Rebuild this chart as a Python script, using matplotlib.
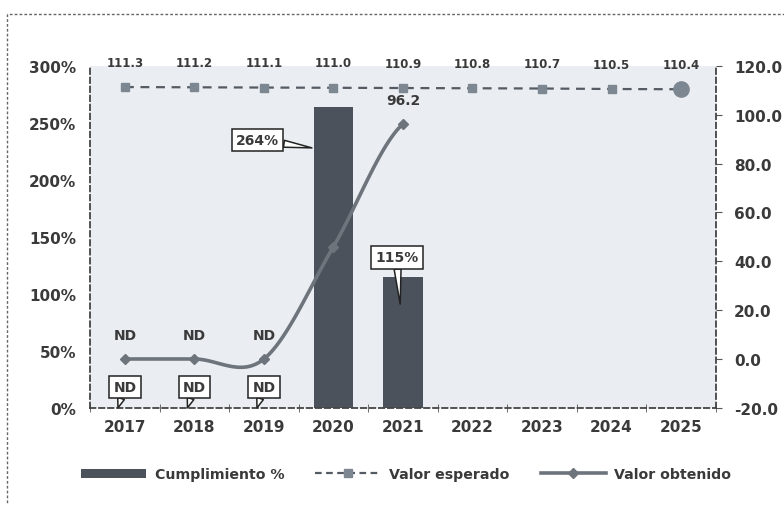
import matplotlib
matplotlib.use("Agg")
import matplotlib.pyplot as plt
import numpy as np
from matplotlib.lines import Line2D
from matplotlib.patches import Patch, Rectangle

# data
years = ["2017", "2018", "2019", "2020", "2021", "2022", "2023", "2024", "2025"]
cumplimiento = [0, 0, 0, 264, 115, np.nan, np.nan, np.nan, np.nan]   # %
cumpl_labels = ["ND", "ND", "ND", "264%", "115%", "", "", "", ""]
esperado = [111.3, 111.2, 111.1, 111.0, 110.9, 110.8, 110.7, 110.5, 110.4]
obtenido = [0, 0, 0, 46, 96.2]
obtenido_labels = ["ND", "ND", "ND", "", "96.2"]

txt_col = "#3a3a3a"
plt.rcParams['font.family'] = ['DejaVu Sans']

fig = plt.figure(figsize=(7.84, 5.06), dpi=100)
ax = fig.add_axes([0.115, 0.192, 0.798, 0.676])
ax2 = ax.twinx()

x = np.arange(len(years))

# bars (left axis)
ax.set_facecolor("#eaedf2")
ax.bar(x, cumplimiento, width=0.57, color="#4b525c", zorder=2)
ax.set_xlim(-0.5, len(years) - 0.5)
ax.set_ylim(0, 300)
ax.set_yticks(np.arange(0, 301, 50))
ax.set_yticklabels(["%d%%" % v for v in range(0, 301, 50)])
ax.set_xticks(x)
ax.set_xticklabels(years)
ax.set_xticks(np.arange(-0.5, len(years), 1), minor=True)
ax.tick_params(axis="x", which="major", length=0, pad=8)
ax.tick_params(axis="x", which="minor", length=6, direction="inout", color="#555")
ax.tick_params(axis="y", length=0, pad=10)
for lab in ax.get_xticklabels() + ax.get_yticklabels():
    lab.set_fontsize(11)
    lab.set_fontweight("bold")
    lab.set_color(txt_col)

# right axis
ax2.set_ylim(-20, 120)
ax2.set_yticks(np.arange(-20, 121, 20))
ax2.set_yticklabels(["%.1f" % v for v in range(-20, 121, 20)])
ax2.tick_params(axis="y", length=4, direction="out", color="#555", pad=9)
for lab in ax2.get_yticklabels():
    lab.set_fontsize(11)
    lab.set_fontweight("bold")
    lab.set_color(txt_col)

for a in (ax, ax2):
    for s in a.spines.values():
        s.set_visible(False)
ax.spines["left"].set_visible(True)
ax.spines["bottom"].set_visible(True)
ax2.spines["right"].set_visible(True)
for s in (ax.spines["left"], ax.spines["bottom"], ax2.spines["right"]):
    s.set_linestyle((0, (3, 2)))
    s.set_color("#444")
    s.set_linewidth(1.3)

# valor esperado (right axis)
ax2.plot(x, esperado, linestyle=(0, (4, 3)), color="#555b63", lw=1.6,
         marker="s", ms=6, mfc="#7d8791", mec="#7d8791", zorder=4)
ax2.plot(x[-1], esperado[-1], marker="o", ms=11, color="#7d8791", zorder=5)
for xi, v in zip(x, esperado):
    ax2.annotate("%.1f" % v, (xi, v), xytext=(0, 18), textcoords="offset points",
                 ha="center", va="center", fontsize=8.5, fontweight="bold", color=txt_col)

# valor obtenido, smoothed line through the points
xo = np.arange(len(obtenido), dtype=float)
yo = np.array(obtenido, dtype=float)
px = np.concatenate([[xo[0]], xo, [xo[-1]]])
py = np.concatenate([[yo[0]], yo, [yo[-1]]])
sx, sy = [], []
t = np.linspace(0, 1, 30)
for i in range(1, len(px) - 2):
    m0 = (py[i + 1] - py[i - 1]) / 2
    m1 = (py[i + 2] - py[i]) / 2
    h00 = 2 * t**3 - 3 * t**2 + 1
    h10 = t**3 - 2 * t**2 + t
    h01 = -2 * t**3 + 3 * t**2
    h11 = t**3 - t**2
    sx.extend(px[i] + t)
    sy.extend(h00 * py[i] + h10 * m0 + h01 * py[i + 1] + h11 * m1)
ax2.plot(sx, sy, color="#6e747c", lw=2.6, zorder=6)
ax2.plot(xo, yo, linestyle="none", marker="D", ms=5, color="#6e747c", zorder=7)
for xi, v, lab in zip(xo, yo, obtenido_labels):
    if lab:
        ax2.annotate(lab, (xi, v), xytext=(0, 17), textcoords="offset points",
                     ha="center", va="center", fontsize=10, fontweight="bold", color=txt_col)

# callouts for cumplimiento
box = dict(boxstyle="square,pad=0.3", fc="white", ec="#222", lw=1.1)
arrow = dict(arrowstyle="wedge,tail_width=0.5,shrink_factor=0.5", fc="white", ec="#222",
             lw=1.1, shrinkA=0, shrinkB=0)
for xi in range(3):
    ax.annotate(cumpl_labels[xi], (xi - 0.1, 0), xytext=(xi, 18.5), textcoords="data",
                ha="center", va="center", fontsize=10, fontweight="bold", color=txt_col,
                bbox=box, arrowprops=arrow, zorder=8)
ax.annotate(cumpl_labels[3], (2.69, 228), xytext=(1.91, 235), textcoords="data",
            ha="center", va="center", fontsize=10, fontweight="bold", color=txt_col,
            bbox=box, arrowprops=arrow, zorder=8)
ax.annotate(cumpl_labels[4], (3.96, 91), xytext=(3.91, 132), textcoords="data",
            ha="center", va="center", fontsize=10, fontweight="bold", color=txt_col,
            bbox=box, arrowprops=arrow, zorder=8)

# legend
handles = [
    Patch(facecolor="#4b525c"),
    Line2D([], [], linestyle=(0, (3, 2)), color="#555b63", lw=1.6, marker="s",
           ms=6, mfc="#7d8791", mec="#7d8791"),
    Line2D([], [], color="#6e747c", lw=2.6, marker="D", ms=5),
]
leg = fig.legend(handles, ["Cumplimiento %", "Valor esperado", "Valor obtenido"],
                 loc="center", bbox_to_anchor=(0.518, 0.061), ncol=3, frameon=False,
                 handlelength=4.6, handleheight=0.6, handletextpad=0.6, columnspacing=2.2,
                 prop={"size": 10.2, "weight": "bold"})
for tx in leg.get_texts():
    tx.set_color(txt_col)

# dashed outer frame
fig.patches.append(Rectangle((0.009, -0.05), 1.2, 1.02, transform=fig.transFigure,
                             fill=False, ec="#666", lw=1, linestyle=(0, (2, 1.5))))

fig.savefig("out.png", dpi=100, facecolor="white")
